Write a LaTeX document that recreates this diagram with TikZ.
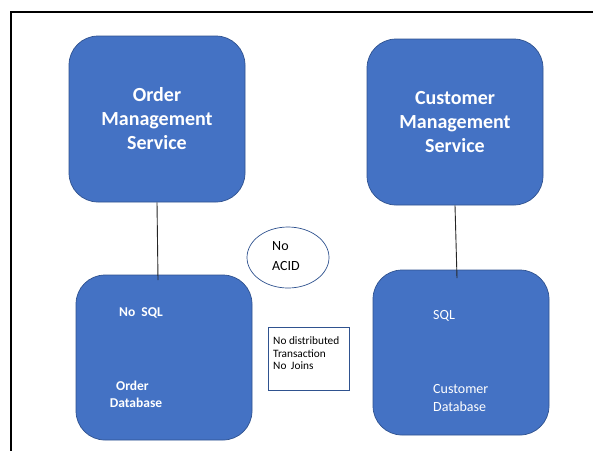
\documentclass[tikz,border=0pt]{standalone}
\usepackage{fontspec}
\setmainfont{Carlito}
\usetikzlibrary{shapes.geometric}
\definecolor{boxblue}{HTML}{4472C4}
\definecolor{edgeblue}{HTML}{2F528F}
\begin{document}
\begin{tikzpicture}[x=1pt,y=-1pt,
  svc/.style={draw=edgeblue, line width=0.7pt, fill=boxblue, rounded corners=29pt,
    minimum width=176pt, minimum height=166pt, inner sep=0pt, text=white,
    font=\fontsize{20}{24}\selectfont\bfseries, align=center},
  dbbox/.style={draw=edgeblue, line width=0.7pt, fill=boxblue, rounded corners=29pt,
    minimum width=176pt, minimum height=165pt, inner sep=0pt},
  dbtxt/.style={text=white, inner sep=0pt, font=\fontsize{13.5}{17}\selectfont},
  note/.style={inner sep=0pt, font=\fontsize{11.3}{12.5}\selectfont, anchor=base west},
  conn/.style={draw=black!85, line width=0.9pt}]
\useasboundingbox (0,0) rectangle (593,451);
\fill[white] (0,0) rectangle (593,451);
% frame
\draw[line width=2pt] (593,12) -- (11,12) -- (11,451);
% service boxes
\node[svc] (oms) at (157,119) {Order\\Management\\Service};
\node[svc] (cms) at (455,122) {Customer\\Management\\Service};
% database boxes
\node[dbbox] (odb) at (164,357.5) {};
\node[dbbox] (cdb) at (461,352.5) {};
% order database texts
\node[dbtxt, font=\fontsize{13.5}{17}\selectfont\bfseries, anchor=base west] (nosql) at (119,316.5) {No\hspace{0.45em}SQL};
\node[dbtxt, font=\fontsize{13.5}{17}\selectfont\bfseries, anchor=base] (ordl) at (132.5,390.5) {Order};
\node[dbtxt, font=\fontsize{13.5}{17}\selectfont\bfseries, anchor=base] (odbl) at (136,407.5) {Database};
% customer database texts
\node[dbtxt, font=\fontsize{14}{17}\selectfont, anchor=base west] (sql) at (433,319.5) {SQL};
\node[dbtxt, font=\fontsize{14}{17}\selectfont, anchor=base west] (custl) at (433,393) {Customer};
\node[dbtxt, font=\fontsize{14}{17}\selectfont, anchor=base west] (cdbl) at (433,411) {Database};
% connectors
\coordinate (oend) at (158,280);
\coordinate (cend) at (457,278);
\draw[conn] (oms.south) -- (oend);
\draw[conn] (cms.south) -- (cend);
% No ACID ellipse
\node[draw=edgeblue, line width=0.7pt, fill=white, ellipse, minimum width=82pt, minimum height=61pt, inner sep=0pt] (acid) at (288,257.5) {};
\node[note, font=\fontsize{14}{17}\selectfont] (no) at (272,250) {No};
\node[note, font=\fontsize{14}{17}\selectfont] (acidl) at (272,270) {ACID};
% note box
\node[draw=edgeblue, line width=0.7pt, fill=white, minimum width=81pt, minimum height=63pt, inner sep=0pt] (nbox) at (308.5,358.5) {};
\node[note] (n1) at (273,344.5) {No distributed};
\node[note] (n2) at (273,357) {Transaction};
\node[note] (n3) at (273,369.5) {No\hspace{0.4em}Joins};
\end{tikzpicture}
\end{document}
